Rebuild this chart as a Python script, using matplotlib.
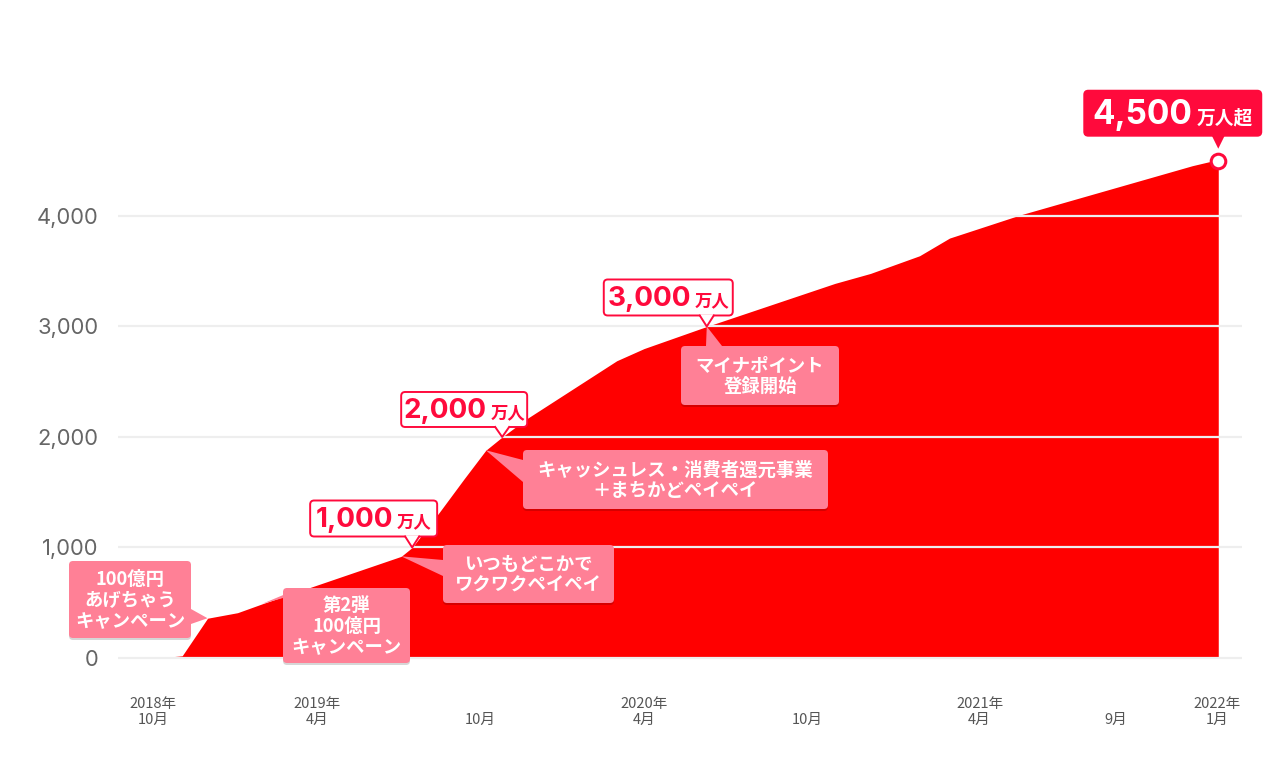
import matplotlib
matplotlib.use('Agg')
import matplotlib.pyplot as plt
from matplotlib.patches import FancyBboxPatch, Polygon
from matplotlib.transforms import IdentityTransform, blended_transform_factory

plt.rcParams['font.family'] = ['Noto Sans CJK JP', 'DejaVu Sans']
NUMFONT = ['Inter', 'Noto Sans CJK JP', 'DejaVu Sans']

# ---------------- data ----------------
# months since Oct 2018, registered users (10k people)
months = [0.2, 1.07, 2.0, 3.1, 4.0, 9.1, 9.5, 10.5, 11.4, 12.2, 12.8, 13.7, 17.0, 18.0,
          20.3, 25.0, 26.3, 28.1, 29.2, 31.8, 38.1, 38.7, 39.05]
users = [0, 20, 360, 410, 490, 920, 1000, 1320, 1620, 1880, 2000, 2165, 2690, 2800,
         3000, 3390, 3480, 3640, 3800, 4010, 4455, 4490, 4500]

ytick_values = [0, 1000, 2000, 3000, 4000]
ytick_labels = ['0', '1,000', '2,000', '3,000', '4,000']

xtick_months = [0, 6, 12, 18, 24, 30.3, 35.3, 39]
xtick_years = ['2018年', '2019年', '', '2020年', '', '2021年', '', '2022年']
xtick_month_labels = ['10月', '4月', '10月', '4月', '10月', '4月', '9月', '1月']

campaign_texts = ['100億円\nあげちゃう\nキャンペーン', '第2弾\n100億円\nキャンペーン',
                  'いつもどこかで\nワクワクペイペイ',
                  'キャッシュレス・消費者還元事業\n＋まちかどペイペイ',
                  'マイナポイント\n登録開始']
campaign_idx = [2, 4, 5, 9, 14]

milestone_numbers = ['1,000', '2,000', '3,000', '4,500']
milestone_units = ['万人', '万人', '万人', '万人超']
milestone_idx = [6, 10, 14, 22]

# ---------------- style ----------------
W, H = 1280, 784
RED = '#ff0000'
CRIMSON = '#ff0a3c'
PINK = '#ff8096'
GRID = '#eeeeee'

fig = plt.figure(figsize=(W / 100, H / 100), dpi=100)
ax_l, ax_r, ax_t, ax_b = 118, 1242, 108, 669
ax = fig.add_axes([ax_l / W, 1 - ax_b / H, (ax_r - ax_l) / W, (ax_b - ax_t) / H])
ax.set_xlim(-1.283, 39.92)
ax.set_ylim(-99.5, 4977)

ax.fill_between(months, users, 0, color=RED, lw=0, zorder=1)
for v in ytick_values:
    ax.axhline(v, color=GRID, lw=1.6, zorder=2)

for s in ax.spines.values():
    s.set_visible(False)
ax.set_xticks([])
ax.set_yticks(ytick_values)
ax.set_yticklabels(ytick_labels, family=NUMFONT)
ax.tick_params(axis='y', length=0, pad=14, labelsize=15.8, labelcolor='#666666')

bt = blended_transform_factory(ax.transData, fig.transFigure)
for m, yl, ml in zip(xtick_months, xtick_years, xtick_month_labels):
    if yl:
        ax.text(m, 1 - 704 / H, yl, transform=bt, ha='center', va='center',
                fontsize=10.5, color='#555555')
    ax.text(m, 1 - 720 / H, ml, transform=bt, ha='center', va='center',
            fontsize=10.5, color='#555555')

ax.plot(months[-1], users[-1], 'o', ms=10.5, mfc='white', mec=CRIMSON, mew=2.2,
        zorder=12, clip_on=False)

ID = IdentityTransform()


def tip_of(i):
    x, y = ax.transData.transform((months[i], users[i]))
    return x, y  # display pixels (origin bottom-left)


def rbox(x0, y0, x1, y1, **kw):
    # reference px (top-left origin) -> display
    p = FancyBboxPatch((x0, H - y1), x1 - x0, y1 - y0,
                       boxstyle='round,pad=0,rounding_size=4', transform=ID, **kw)
    fig.add_artist(p)
    return p


# pink campaign boxes: box rect in reference px, triangle base points
campaign_boxes = [(69, 561, 191, 638), (283, 588, 410, 663), (443, 545, 614, 603),
                  (523, 450, 828, 509), (681, 346, 839, 405)]
campaign_bases = [((191, 609), (191, 624)), ((283, 598), (300, 588)),
                  ((443, 560), (443, 576)), ((523, 460), (523, 482)),
                  ((706, 346), (722, 346))]

for txt, i, (x0, y0, x1, y1), (b1, b2) in zip(campaign_texts, campaign_idx,
                                                campaign_boxes, campaign_bases):
    tx, ty = tip_of(i)
    rbox(x0, y0 + 2, x1, y1 + 2, facecolor='black', alpha=0.16, lw=0, zorder=8)
    rbox(x0, y0, x1, y1, facecolor=PINK, lw=0, zorder=9)
    tri = Polygon([(tx, ty), (b1[0], H - b1[1]), (b2[0], H - b2[1])], closed=True,
                  facecolor=PINK, lw=0, transform=ID, zorder=9)
    fig.add_artist(tri)
    fig.text((x0 + x1) / 2 / W, 1 - ((y0 + y1) / 2 + 1) / H, txt, ha='center',
             va='center', fontsize=13.2, color='white', fontweight='bold',
             linespacing=1.12, zorder=10)

# milestone value callouts: box size (w, h), right offset from tip, gap above tip
milestone_sizes = [(127, 36), (126, 35), (129, 36), (177, 45)]
milestone_right = [25, 25, 26, 43]
milestone_gap = [11, 10, 11, 13]
num_sizes = [20, 20, 20, 24]
unit_sizes = [12.5, 12.5, 12.5, 13.5]

renderer = fig.canvas.get_renderer()
for k, (num, unit, i) in enumerate(zip(milestone_numbers, milestone_units, milestone_idx)):
    tx, ty = tip_of(i)
    filled = (k == len(milestone_idx) - 1)
    if filled:
        ty = ty + 12  # tip sits above the marker circle
    w, h = milestone_sizes[k]
    x1 = tx + milestone_right[k]
    x0 = x1 - w
    yb = ty + milestone_gap[k]
    fc = CRIMSON if filled else 'white'
    tc = 'white' if filled else CRIMSON
    box = FancyBboxPatch((x0, yb), w, h, boxstyle='round,pad=0,rounding_size=4',
                         transform=ID, facecolor=fc, edgecolor=CRIMSON, lw=1.4,
                         zorder=11)
    fig.add_artist(box)
    hw = 7
    tri = Polygon([(tx - hw, yb + 1.2), (tx, ty), (tx + hw, yb + 1.2)], closed=True,
                  facecolor=fc, lw=0, transform=ID, zorder=12)
    fig.add_artist(tri)
    if not filled:
        fig.add_artist(plt.Line2D([tx - hw, tx, tx + hw], [yb, ty, yb], color=CRIMSON,
                                  lw=1.4, transform=ID, zorder=13))
    base = yb + h * 0.26
    t1 = fig.text(0, 0, num, fontsize=num_sizes[k], fontweight='bold', color=tc,
                  ha='left', va='baseline', transform=ID, zorder=14, family=NUMFONT)
    t2 = fig.text(0, 0, unit, fontsize=unit_sizes[k], fontweight='bold', color=tc,
                  ha='left', va='baseline', transform=ID, zorder=14)
    w1 = t1.get_window_extent(renderer).width
    w2 = t2.get_window_extent(renderer).width
    gap = 4
    start = (x0 + x1) / 2 - (w1 + gap + w2) / 2
    t1.set_position((start, base))
    t2.set_position((start + w1 + gap, base))

fig.savefig('out.png', dpi=100)
